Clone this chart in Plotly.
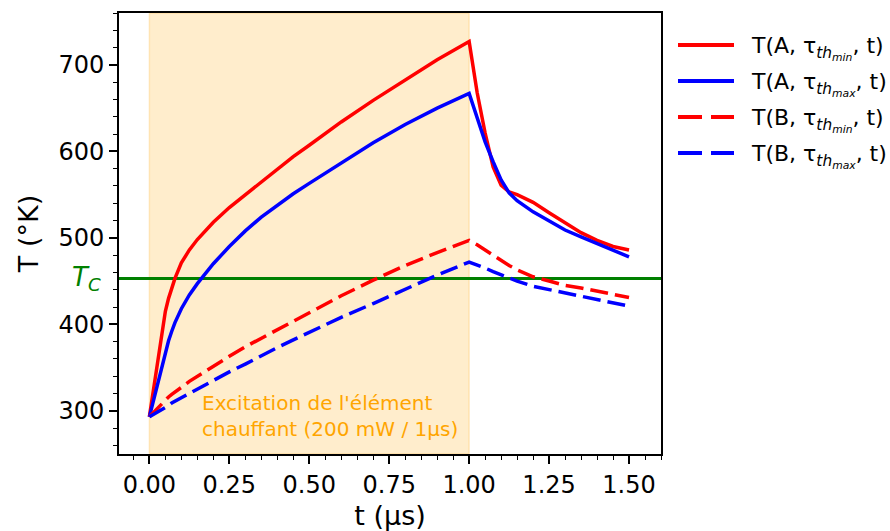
import plotly.graph_objects as go

# ---- data ----
t_us = [0, 0.01, 0.02, 0.03, 0.04, 0.05, 0.06, 0.07, 0.08, 0.1, 0.125, 0.15, 0.175, 0.2,
        0.25, 0.3, 0.35, 0.4, 0.45, 0.5, 0.6, 0.7, 0.8, 0.9, 1.0,
        1.025, 1.05, 1.075, 1.1, 1.125, 1.15, 1.2, 1.25, 1.3, 1.35, 1.4, 1.45, 1.5]
T_A_min = [293, 318, 343, 370, 396, 415, 430, 443, 453, 471, 486, 498, 508, 518,
           535, 550, 565, 580, 594, 607, 634, 659, 683, 706, 727,
           668, 621, 582, 561, 553, 550, 541, 529, 517, 506, 497, 490, 486]
T_A_max = [293, 308, 324, 340, 355, 369, 381, 392, 402, 418, 434, 447, 459, 470,
           490, 508, 524, 538, 551, 563, 587, 610, 631, 650, 667,
           639, 611, 588, 567, 552, 543, 530, 519, 509, 501, 493, 486, 478]
T_B_min = [293, 297, 301, 305, 309, 312, 316, 319, 322, 327, 334, 340, 346, 352,
           363, 374, 384, 394, 404, 414, 433, 451, 468, 483, 497,
           492, 486, 480, 473, 468, 463, 455, 450, 445, 442, 438, 435, 431]
T_B_max = [293, 295, 297, 300, 302, 304, 306, 309, 311, 316, 321, 326, 331, 336,
           345, 354, 364, 373, 382, 391, 408, 424, 441, 457, 472,
           469, 465, 461, 457, 453, 450, 444, 440, 436, 432, 429, 425, 421]
T_C = 453
excitation = [0.0, 1.0]

x_ticks = [0, 0.25, 0.5, 0.75, 1.0, 1.25, 1.5]
x_tick_labels = ["0.00", "0.25", "0.50", "0.75", "1.00", "1.25", "1.50"]
y_ticks = [300, 400, 500, 600, 700]
y_tick_labels = ["300", "400", "500", "600", "700"]

series_names = [
    "T(A, τ<sub><i>th<sub>min</sub></i></sub>, t)",
    "T(A, τ<sub><i>th<sub>max</sub></i></sub>, t)",
    "T(B, τ<sub><i>th<sub>min</sub></i></sub>, t)",
    "T(B, τ<sub><i>th<sub>max</sub></i></sub>, t)",
]
series_values = [T_A_min, T_A_max, T_B_min, T_B_max]
series_colors = ["#ff0000", "#0000ff", "#ff0000", "#0000ff"]
series_dash = ["solid", "solid", "18px,7px", "18px,7px"]

FONT = "DejaVu Sans"
W, H = 890, 531
ML, MR, MT, MB = 119, 229, 13, 77
PW, PH = W - ML - MR, H - MT - MB


def px_to_paper_x(px):
    return (px - ML) / PW


def px_to_paper_y(py):
    return (H - MB - py) / PH


fig = go.Figure()
for i, (name, vals, col, dash) in enumerate(zip(series_names, series_values, series_colors, series_dash)):
    fig.add_trace(go.Scatter(
        x=t_us, y=vals, mode="lines", name=name, showlegend=False,
        line=dict(color=col, width=3.5, dash=dash),
    ))

# heating period shading
fig.add_shape(type="rect", xref="x", yref="paper", x0=excitation[0], x1=excitation[1], y0=0, y1=1,
              fillcolor="rgba(255,165,0,0.2)", line=dict(color="rgba(255,165,0,0.2)", width=1.5),
              layer="below")
# critical temperature line
fig.add_shape(type="line", xref="paper", yref="y", x0=0, x1=1, y0=T_C, y1=T_C,
              line=dict(color="green", width=3), layer="below")

fig.add_annotation(x=-0.06, xref="paper", y=T_C, yref="y", text="<i>T<sub>C</sub></i>",
                   showarrow=False, font=dict(family=FONT, size=26, color="green"),
                   xanchor="center", yanchor="middle")
fig.add_annotation(x=0.158, xref="x", y=294, yref="y",
                   text="Excitation de l'élément<br>chauffant (200 mW / 1µs)",
                   showarrow=False, align="left", xanchor="left", yanchor="middle",
                   font=dict(family=FONT, size=20, color="orange"))

# legend drawn outside the plot on the right
legend_rows_px = [45, 81, 117, 153]
legend_dash = ["solid", "solid", "24px,9px", "24px,9px"]
for name, col, dash, py in zip(series_names, series_colors, legend_dash, legend_rows_px):
    fig.add_shape(type="line", xref="paper", yref="paper",
                  x0=px_to_paper_x(678), x1=px_to_paper_x(734),
                  y0=px_to_paper_y(py), y1=px_to_paper_y(py),
                  line=dict(color=col, width=4, dash=dash))
    fig.add_annotation(x=px_to_paper_x(749), xref="paper", y=px_to_paper_y(py), yref="paper",
                       text=name, showarrow=False, xanchor="left", yanchor="middle",
                       yshift=-3, font=dict(family=FONT, size=22, color="black"))

fig.update_layout(
    width=W, height=H,
    margin=dict(l=ML, r=MR, t=MT, b=MB),
    plot_bgcolor="white", paper_bgcolor="white",
    font=dict(family=FONT, color="black"),
    showlegend=False,
    xaxis=dict(range=[-0.095, 1.6], tickvals=x_ticks, ticktext=x_tick_labels,
               ticks="outside", ticklen=8, tickwidth=1.5, tickcolor="black",
               showline=True, linecolor="black", linewidth=2, mirror=True,
               showgrid=False, zeroline=False, automargin=False,
               tickfont=dict(family=FONT, size=24),
               minor=dict(dtick=0.05, tick0=0, ticks="outside", ticklen=4, tickwidth=1.2, tickcolor="black"),
               title=dict(text="t (µs)", font=dict(family=FONT, size=27), standoff=12)),
    yaxis=dict(range=[250, 760], tickvals=y_ticks, ticktext=y_tick_labels,
               ticks="outside", ticklen=8, tickwidth=1.5, tickcolor="black",
               showline=True, linecolor="black", linewidth=2, mirror=True,
               showgrid=False, zeroline=False, automargin=False,
               tickfont=dict(family=FONT, size=24),
               minor=dict(dtick=20, tick0=0, ticks="outside", ticklen=4, tickwidth=1.2, tickcolor="black"),
               title=dict(text="T (°K)", font=dict(family=FONT, size=27), standoff=12)),
)

fig.write_html("out.html", config={"displayModeBar": False},
               post_script="document.body.style.margin='0';document.body.style.padding='0';")
